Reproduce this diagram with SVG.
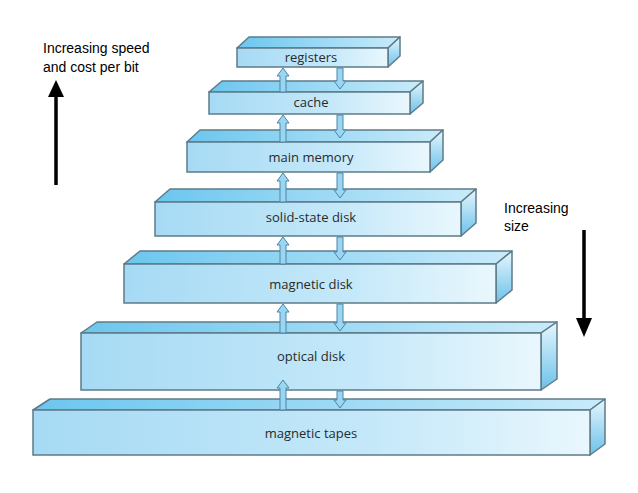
<svg xmlns="http://www.w3.org/2000/svg" width="638" height="493" viewBox="0 0 638 493">
<defs>
<linearGradient id="gf" x1="0" x2="1" y1="0" y2="0"><stop offset="0" stop-color="#a6daf4"/><stop offset="0.6" stop-color="#c4e8f9"/><stop offset="1" stop-color="#e9f7fd"/></linearGradient>
<linearGradient id="gt" x1="0" x2="1" y1="0" y2="0"><stop offset="0" stop-color="#6cc6ee"/><stop offset="1" stop-color="#c9ebfa"/></linearGradient>
<linearGradient id="gr" x1="0" x2="0" y1="0" y2="1"><stop offset="0" stop-color="#e6f6fd"/><stop offset="1" stop-color="#6cc2ea"/></linearGradient>
</defs>
<style>
.f{fill:url(#gf);stroke:#5d7b88;stroke-width:1.5}
.t{fill:url(#gt);stroke:#5d7b88;stroke-width:1.5;stroke-linejoin:round}
.r{fill:url(#gr);stroke:#5d7b88;stroke-width:1.5;stroke-linejoin:round}
.l{font-family:"Open Sans","Liberation Sans",sans-serif;font-size:13px;fill:#2a2a2a;text-anchor:middle}
.s{font-family:"Liberation Sans",Arial,sans-serif;font-size:14px;fill:#000}
.a{fill:#9ad6f2;stroke:#4a86a8;stroke-width:1;stroke-linejoin:round}
</style>
<rect width="638" height="493" fill="#fff"/>
<g id="tapes"><polygon class="t" points="33,410 50,399 605,399 590,410"/><polygon class="r" points="590,410 605,399 605,444 590,455"/><rect class="f" x="33" y="410" width="557" height="45"/><text class="l" x="311" y="438">magnetic tapes</text></g>
<g id="optical"><polygon class="t" points="81,333 97,322 557,322 541,333"/><polygon class="r" points="541,333 557,322 557,379 541,390"/><rect class="f" x="81" y="333" width="460" height="57"/><text class="l" x="311" y="361">optical disk</text></g>
<g id="mdisk"><polygon class="t" points="124,264 140,251 512,251 496,264"/><polygon class="r" points="496,264 512,251 512,290 496,303"/><rect class="f" x="124" y="264" width="372" height="39"/><text class="l" x="311" y="289">magnetic disk</text></g>
<g id="ssd"><polygon class="t" points="155,202 170,189 476,189 461,202"/><polygon class="r" points="461,202 476,189 476,223 461,236"/><rect class="f" x="155" y="202" width="306" height="34"/><text class="l" x="311" y="222">solid-state disk</text></g>
<g id="main"><polygon class="t" points="187,142 200,130 443,130 430,142"/><polygon class="r" points="430,142 443,130 443,160 430,172"/><rect class="f" x="187" y="142" width="243" height="30"/><text class="l" x="311" y="162">main memory</text></g>
<g id="cache"><polygon class="t" points="209,92 222,81 423,81 410,92"/><polygon class="r" points="410,92 423,81 423,103 410,114"/><rect class="f" x="209" y="92" width="201" height="22"/><text class="l" x="311" y="107">cache</text></g>
<g id="registers"><polygon class="t" points="237,48 249,37 400,37 388,48"/><polygon class="r" points="388,48 400,37 400,56 388,67"/><rect class="f" x="237" y="48" width="151" height="19"/><text class="l" x="311" y="62">registers</text></g>
<g id="connectors">
<polygon class="a" points="280,92 280,76 277,76 283,68 289,76 286,76 286,92"/>
<polygon class="a" points="337,68 337,81 334,81 340,89 346,81 343,81 343,68"/>
<polygon class="a" points="280,142 280,123 277,123 283,115 289,123 286,123 286,142"/>
<polygon class="a" points="337,115 337,130 334,130 340,138 346,130 343,130 343,115"/>
<polygon class="a" points="280,202 280,181 277,181 283,173 289,181 286,181 286,202"/>
<polygon class="a" points="337,173 337,190 334,190 340,198 346,190 343,190 343,173"/>
<polygon class="a" points="280,264 280,245 277,245 283,237 289,245 286,245 286,264"/>
<polygon class="a" points="337,237 337,252 334,252 340,260 346,252 343,252 343,237"/>
<polygon class="a" points="280,333 280,312 277,312 283,304 289,312 286,312 286,333"/>
<polygon class="a" points="337,304 337,323 334,323 340,331 346,323 343,323 343,304"/>
<polygon class="a" points="280,410 280,388 277,388 283,380 289,388 286,388 286,410"/>
<polygon class="a" points="337,391 337,400 334,400 340,408 346,400 343,400 343,391"/>
</g>
<g id="speed"><text class="s" x="43" y="53">Increasing speed</text><text class="s" x="43" y="72">and cost per bit</text><line x1="56" y1="185" x2="56" y2="95" stroke="#000" stroke-width="3.5"/><polygon points="48,97 56,80 64,97" fill="#000"/></g>
<g id="size"><text class="s" x="504" y="213">Increasing</text><text class="s" x="504" y="231">size</text><line x1="584" y1="230" x2="584" y2="320" stroke="#000" stroke-width="3.5"/><polygon points="576,318 584,337 592,318" fill="#000"/></g>
</svg>
